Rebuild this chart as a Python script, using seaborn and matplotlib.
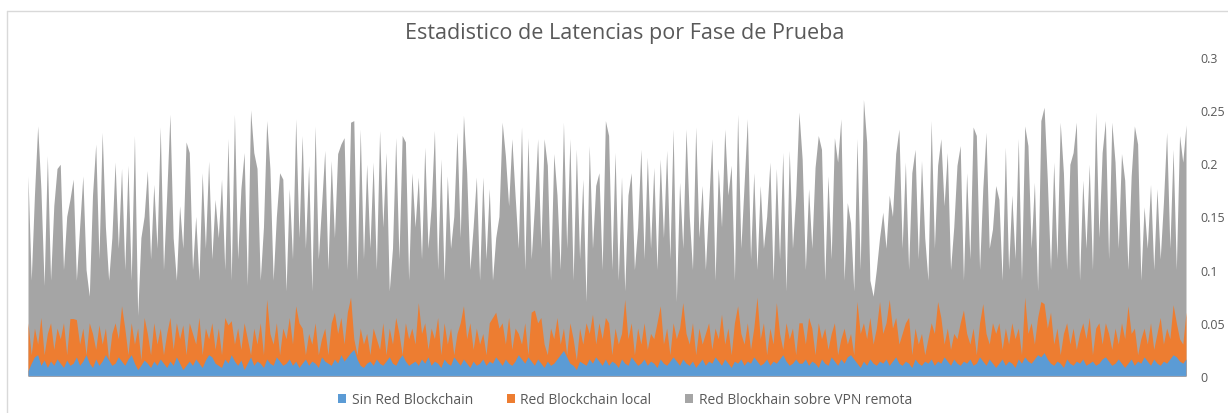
import numpy as np
import matplotlib
matplotlib.use("Agg")
import matplotlib.pyplot as plt
from matplotlib.patches import Patch
from matplotlib.lines import Line2D
import seaborn as sns

# latencias (segundos), 6 tramos de 60 muestras
vpn_remota = [
    0.188, 0.09, 0.17, 0.235, 0.176, 0.085, 0.207, 0.09, 0.16, 0.195,
    0.199, 0.10, 0.15, 0.166, 0.185, 0.09, 0.14, 0.188, 0.10, 0.075,
    0.17, 0.218, 0.11, 0.229, 0.14, 0.09, 0.13, 0.201, 0.12, 0.195,
    0.10, 0.198, 0.09, 0.226, 0.057, 0.13, 0.15, 0.193, 0.11, 0.18,
    0.12, 0.234, 0.10, 0.17, 0.246, 0.13, 0.09, 0.16, 0.12, 0.220,
    0.21, 0.10, 0.15, 0.09, 0.191, 0.12, 0.202, 0.11, 0.166, 0.13,
    0.185, 0.10, 0.223, 0.09, 0.246, 0.11, 0.176, 0.210, 0.085, 0.25,
    0.210, 0.195, 0.09, 0.14, 0.240, 0.195, 0.09, 0.15, 0.191, 0.185,
    0.08, 0.176, 0.11, 0.2416, 0.13, 0.226, 0.12, 0.198, 0.08, 0.235,
    0.11, 0.16, 0.212, 0.10, 0.2024, 0.13, 0.209, 0.218, 0.224, 0.10,
    0.2385, 0.240, 0.09, 0.232, 0.11, 0.199, 0.12, 0.201, 0.10, 0.2306,
    0.14, 0.210, 0.08, 0.12, 0.224, 0.11, 0.226, 0.220, 0.09, 0.191,
    0.14, 0.187, 0.11, 0.215, 0.12, 0.16, 0.2306, 0.10, 0.204, 0.09,
    0.188, 0.12, 0.15, 0.229, 0.13, 0.245, 0.191, 0.10, 0.14, 0.187,
    0.09, 0.187, 0.11, 0.176, 0.09, 0.13, 0.15, 0.2385, 0.207, 0.16,
    0.223, 0.17, 0.12, 0.234, 0.10, 0.224, 0.11, 0.16, 0.223, 0.12,
    0.223, 0.198, 0.09, 0.209, 0.170, 0.10, 0.2385, 0.12, 0.223, 0.09,
    0.213, 0.11, 0.185, 0.07, 0.2165, 0.12, 0.179, 0.191, 0.10, 0.240,
    0.226, 0.10, 0.210, 0.09, 0.187, 0.08, 0.170, 0.191, 0.10, 0.14,
    0.213, 0.11, 0.2056, 0.12, 0.196, 0.10, 0.204, 0.13, 0.212, 0.11,
    0.232, 0.07, 0.182, 0.12, 0.232, 0.15, 0.10, 0.234, 0.13, 0.179,
    0.10, 0.16, 0.223, 0.09, 0.195, 0.14, 0.232, 0.17, 0.198, 0.09,
    0.246, 0.12, 0.18, 0.2416, 0.11, 0.191, 0.10, 0.179, 0.12, 0.15,
    0.201, 0.09, 0.195, 0.11, 0.210, 0.08, 0.212, 0.12, 0.17, 0.248,
    0.204, 0.10, 0.176, 0.12, 0.196, 0.226, 0.213, 0.09, 0.188, 0.11,
    0.224, 0.201, 0.2416, 0.09, 0.163, 0.144, 0.08, 0.223, 0.10, 0.260,
    0.220, 0.09, 0.075, 0.10, 0.13, 0.154, 0.12, 0.170, 0.15, 0.209,
    0.232, 0.12, 0.201, 0.10, 0.191, 0.213, 0.11, 0.2024, 0.13, 0.09,
    0.240, 0.12, 0.198, 0.223, 0.16, 0.210, 0.10, 0.14, 0.198, 0.2165,
    0.09, 0.191, 0.11, 0.234, 0.226, 0.10, 0.176, 0.229, 0.12, 0.138,
    0.179, 0.166, 0.09, 0.215, 0.10, 0.170, 0.11, 0.223, 0.09, 0.235,
    0.2165, 0.12, 0.182, 0.08, 0.240, 0.2526, 0.185, 0.10, 0.201, 0.11,
    0.2385, 0.191, 0.10, 0.199, 0.210, 0.2385, 0.09, 0.184, 0.12, 0.199,
    0.10, 0.248, 0.13, 0.210, 0.240, 0.11, 0.2385, 0.201, 0.12, 0.209,
    0.184, 0.10, 0.188, 0.235, 0.218, 0.09, 0.159, 0.12, 0.180, 0.10,
    0.176, 0.11, 0.163, 0.229, 0.12, 0.213, 0.10, 0.226, 0.201, 0.236,
]

red_local = [
    0.05, 0.02, 0.045, 0.03, 0.055, 0.02, 0.04, 0.05, 0.025, 0.045,
    0.035, 0.05, 0.02, 0.054, 0.054, 0.053, 0.03, 0.045, 0.02, 0.05,
    0.04, 0.025, 0.048, 0.03, 0.045, 0.015, 0.04, 0.05, 0.035, 0.066,
    0.045, 0.02, 0.05, 0.03, 0.045, 0.015, 0.055, 0.04, 0.02, 0.05,
    0.03, 0.045, 0.02, 0.04, 0.055, 0.025, 0.05, 0.035, 0.048, 0.02,
    0.05, 0.04, 0.03, 0.055, 0.02, 0.045, 0.035, 0.05, 0.025, 0.045,
    0.02, 0.055, 0.048, 0.052, 0.03, 0.045, 0.025, 0.05, 0.035, 0.02,
    0.045, 0.03, 0.05, 0.02, 0.072, 0.04, 0.03, 0.05, 0.02, 0.045,
    0.035, 0.055, 0.03, 0.066, 0.05, 0.045, 0.02, 0.04, 0.03, 0.05,
    0.02, 0.035, 0.045, 0.02, 0.05, 0.06, 0.04, 0.055, 0.03, 0.06,
    0.074, 0.035, 0.02, 0.045, 0.03, 0.04, 0.02, 0.045, 0.035, 0.025,
    0.05, 0.02, 0.045, 0.03, 0.055, 0.04, 0.02, 0.05, 0.035, 0.045,
    0.03, 0.069, 0.04, 0.05, 0.025, 0.045, 0.035, 0.055, 0.02, 0.05,
    0.03, 0.045, 0.02, 0.04, 0.05, 0.066, 0.035, 0.05, 0.025, 0.045,
    0.03, 0.04, 0.02, 0.05, 0.055, 0.06, 0.045, 0.05, 0.03, 0.055,
    0.025, 0.045, 0.04, 0.03, 0.05, 0.02, 0.06, 0.062, 0.05, 0.055,
    0.03, 0.02, 0.045, 0.035, 0.055, 0.03, 0.045, 0.02, 0.05, 0.035,
    0.015, 0.045, 0.03, 0.05, 0.04, 0.058, 0.03, 0.05, 0.035, 0.055,
    0.05, 0.02, 0.045, 0.03, 0.04, 0.072, 0.035, 0.05, 0.02, 0.045,
    0.03, 0.05, 0.025, 0.04, 0.035, 0.05, 0.066, 0.03, 0.045, 0.02,
    0.05, 0.035, 0.045, 0.069, 0.04, 0.03, 0.05, 0.02, 0.045, 0.03,
    0.04, 0.05, 0.025, 0.045, 0.035, 0.058, 0.03, 0.045, 0.02, 0.05,
    0.066, 0.04, 0.03, 0.05, 0.025, 0.045, 0.074, 0.035, 0.05, 0.02,
    0.045, 0.03, 0.069, 0.04, 0.025, 0.05, 0.035, 0.045, 0.02, 0.05,
    0.05, 0.03, 0.055, 0.045, 0.02, 0.05, 0.035, 0.045, 0.025, 0.04,
    0.05, 0.02, 0.035, 0.045, 0.03, 0.04, 0.02, 0.07, 0.04, 0.05,
    0.035, 0.055, 0.03, 0.045, 0.07, 0.04, 0.05, 0.072, 0.045, 0.055,
    0.03, 0.04, 0.05, 0.055, 0.02, 0.045, 0.03, 0.04, 0.02, 0.035,
    0.05, 0.04, 0.07, 0.055, 0.03, 0.045, 0.025, 0.04, 0.035, 0.05,
    0.062, 0.04, 0.03, 0.045, 0.02, 0.05, 0.068, 0.04, 0.03, 0.05,
    0.04, 0.05, 0.025, 0.045, 0.03, 0.05, 0.035, 0.045, 0.02, 0.074,
    0.04, 0.05, 0.03, 0.055, 0.07, 0.068, 0.045, 0.06, 0.03, 0.045,
    0.02, 0.04, 0.05, 0.03, 0.045, 0.025, 0.04, 0.05, 0.035, 0.055,
    0.02, 0.045, 0.05, 0.03, 0.05, 0.04, 0.025, 0.045, 0.03, 0.05,
    0.035, 0.066, 0.04, 0.045, 0.02, 0.035, 0.045, 0.03, 0.05, 0.025,
    0.04, 0.055, 0.03, 0.045, 0.035, 0.067, 0.05, 0.035, 0.03, 0.06,
]

sin_red = [
    0.005, 0.012, 0.018, 0.02, 0.01, 0.015, 0.008, 0.014, 0.01, 0.016,
    0.012, 0.008, 0.015, 0.01, 0.012, 0.018, 0.01, 0.014, 0.02, 0.012,
    0.008, 0.016, 0.01, 0.014, 0.02, 0.015, 0.01, 0.012, 0.018, 0.014,
    0.01, 0.016, 0.02, 0.012, 0.006, 0.01, 0.015, 0.012, 0.008, 0.014,
    0.01, 0.016, 0.012, 0.008, 0.014, 0.01, 0.018, 0.012, 0.006, 0.01,
    0.014, 0.01, 0.016, 0.012, 0.008, 0.015, 0.02, 0.018, 0.012, 0.01,
    0.008, 0.016, 0.012, 0.02, 0.014, 0.01, 0.015, 0.006, 0.012, 0.018,
    0.01, 0.014, 0.012, 0.008, 0.016, 0.012, 0.01, 0.018, 0.014, 0.01,
    0.012, 0.016, 0.01, 0.014, 0.008, 0.012, 0.016, 0.01, 0.014, 0.012,
    0.008, 0.018, 0.014, 0.012, 0.01, 0.016, 0.012, 0.02, 0.014, 0.018,
    0.022, 0.025, 0.016, 0.01, 0.008, 0.012, 0.014, 0.01, 0.016, 0.012,
    0.01, 0.014, 0.018, 0.012, 0.01, 0.016, 0.02, 0.014, 0.01, 0.012,
    0.014, 0.01, 0.016, 0.012, 0.018, 0.01, 0.014, 0.012, 0.008, 0.016,
    0.012, 0.01, 0.018, 0.014, 0.01, 0.016, 0.012, 0.008, 0.014, 0.01,
    0.012, 0.016, 0.01, 0.014, 0.012, 0.018, 0.014, 0.01, 0.016, 0.012,
    0.01, 0.014, 0.02, 0.016, 0.012, 0.018, 0.014, 0.01, 0.016, 0.012,
    0.008, 0.014, 0.01, 0.012, 0.016, 0.02, 0.024, 0.018, 0.012, 0.01,
    0.006, 0.014, 0.012, 0.01, 0.016, 0.012, 0.018, 0.014, 0.01, 0.016,
    0.01, 0.014, 0.012, 0.008, 0.016, 0.012, 0.01, 0.018, 0.014, 0.01,
    0.012, 0.016, 0.01, 0.014, 0.012, 0.008, 0.016, 0.012, 0.01, 0.014,
    0.018, 0.014, 0.01, 0.016, 0.012, 0.01, 0.014, 0.008, 0.012, 0.016,
    0.01, 0.014, 0.012, 0.018, 0.014, 0.01, 0.016, 0.012, 0.008, 0.014,
    0.012, 0.016, 0.01, 0.014, 0.012, 0.018, 0.014, 0.01, 0.012, 0.016,
    0.01, 0.014, 0.012, 0.016, 0.02, 0.014, 0.01, 0.012, 0.016, 0.012,
    0.012, 0.016, 0.01, 0.014, 0.012, 0.008, 0.016, 0.012, 0.01, 0.018,
    0.014, 0.01, 0.016, 0.012, 0.018, 0.02, 0.016, 0.012, 0.008, 0.014,
    0.01, 0.016, 0.012, 0.01, 0.014, 0.012, 0.016, 0.01, 0.014, 0.018,
    0.012, 0.01, 0.014, 0.012, 0.008, 0.016, 0.012, 0.01, 0.014, 0.012,
    0.016, 0.01, 0.014, 0.012, 0.018, 0.014, 0.01, 0.016, 0.012, 0.01,
    0.014, 0.012, 0.016, 0.01, 0.012, 0.018, 0.014, 0.01, 0.016, 0.012,
    0.008, 0.012, 0.016, 0.01, 0.014, 0.012, 0.008, 0.016, 0.012, 0.018,
    0.014, 0.012, 0.016, 0.02, 0.018, 0.022, 0.016, 0.012, 0.01, 0.014,
    0.012, 0.008, 0.016, 0.012, 0.01, 0.014, 0.012, 0.016, 0.01, 0.012,
    0.014, 0.01, 0.012, 0.016, 0.018, 0.014, 0.01, 0.012, 0.016, 0.012,
    0.008, 0.012, 0.016, 0.01, 0.014, 0.012, 0.018, 0.014, 0.01, 0.016,
    0.012, 0.01, 0.014, 0.012, 0.016, 0.02, 0.018, 0.014, 0.012, 0.016,
]

series_names = ["Sin Red Blockchain", "Red Blockchain local",
                "Red Blockhain sobre VPN remota"]
series_colors = ["#5B9BD5", "#ED7D31", "#A5A5A5"]
y_ticks = [0, 0.05, 0.1, 0.15, 0.2, 0.25, 0.3]
y_labels = ["0", "0.05", "0.1", "0.15", "0.2", "0.25", "0.3"]

sns.set_theme(style="white")
plt.rcParams["font.family"] = ["Open Sans", "DejaVu Sans"]

fig = plt.figure(figsize=(12.28, 4.14), dpi=100)
ax = fig.add_axes([0.0228, 0.0894, 0.943, 0.771])

x = np.arange(len(vpn_remota))
# areas superpuestas: la ultima serie al fondo
for vals, col in zip([vpn_remota, red_local, sin_red], series_colors[::-1]):
    ax.fill_between(x, 0, vals, color=col, linewidth=0)

ax.set_xlim(0, len(x) - 1)
ax.set_ylim(0, 0.3)
ax.set_xticks([])
ax.yaxis.tick_right()
ax.set_yticks(y_ticks)
ax.set_yticklabels(y_labels)
ax.tick_params(axis="y", length=0, pad=10, labelsize=9, labelcolor="#595959")
for s in ax.spines.values():
    s.set_visible(False)
ax.axhline(0, color="#D9D9D9", linewidth=0.8)

fig.text(0.509, 0.92, "Estadistico de Latencias por Fase de Prueba",
         ha="center", va="center", fontsize=15.5, color="#595959")

handles = [Patch(facecolor=c, edgecolor="none", label=n)
           for n, c in zip(series_names, series_colors)]
fig.legend(handles=handles, loc="center", bbox_to_anchor=(0.509, 0.032),
           ncol=3, frameon=False, fontsize=10, labelcolor="#595959",
           handlelength=0.6, handleheight=0.6, handletextpad=0.4,
           columnspacing=2.4)

# marco del grafico
fig.add_artist(Line2D([0.0057, 1.0], [0.971, 0.971], color="#D9D9D9", linewidth=1))
fig.add_artist(Line2D([0.0057, 0.0057], [0.0, 0.971], color="#D9D9D9", linewidth=1))

fig.savefig("out.png", dpi=100)
